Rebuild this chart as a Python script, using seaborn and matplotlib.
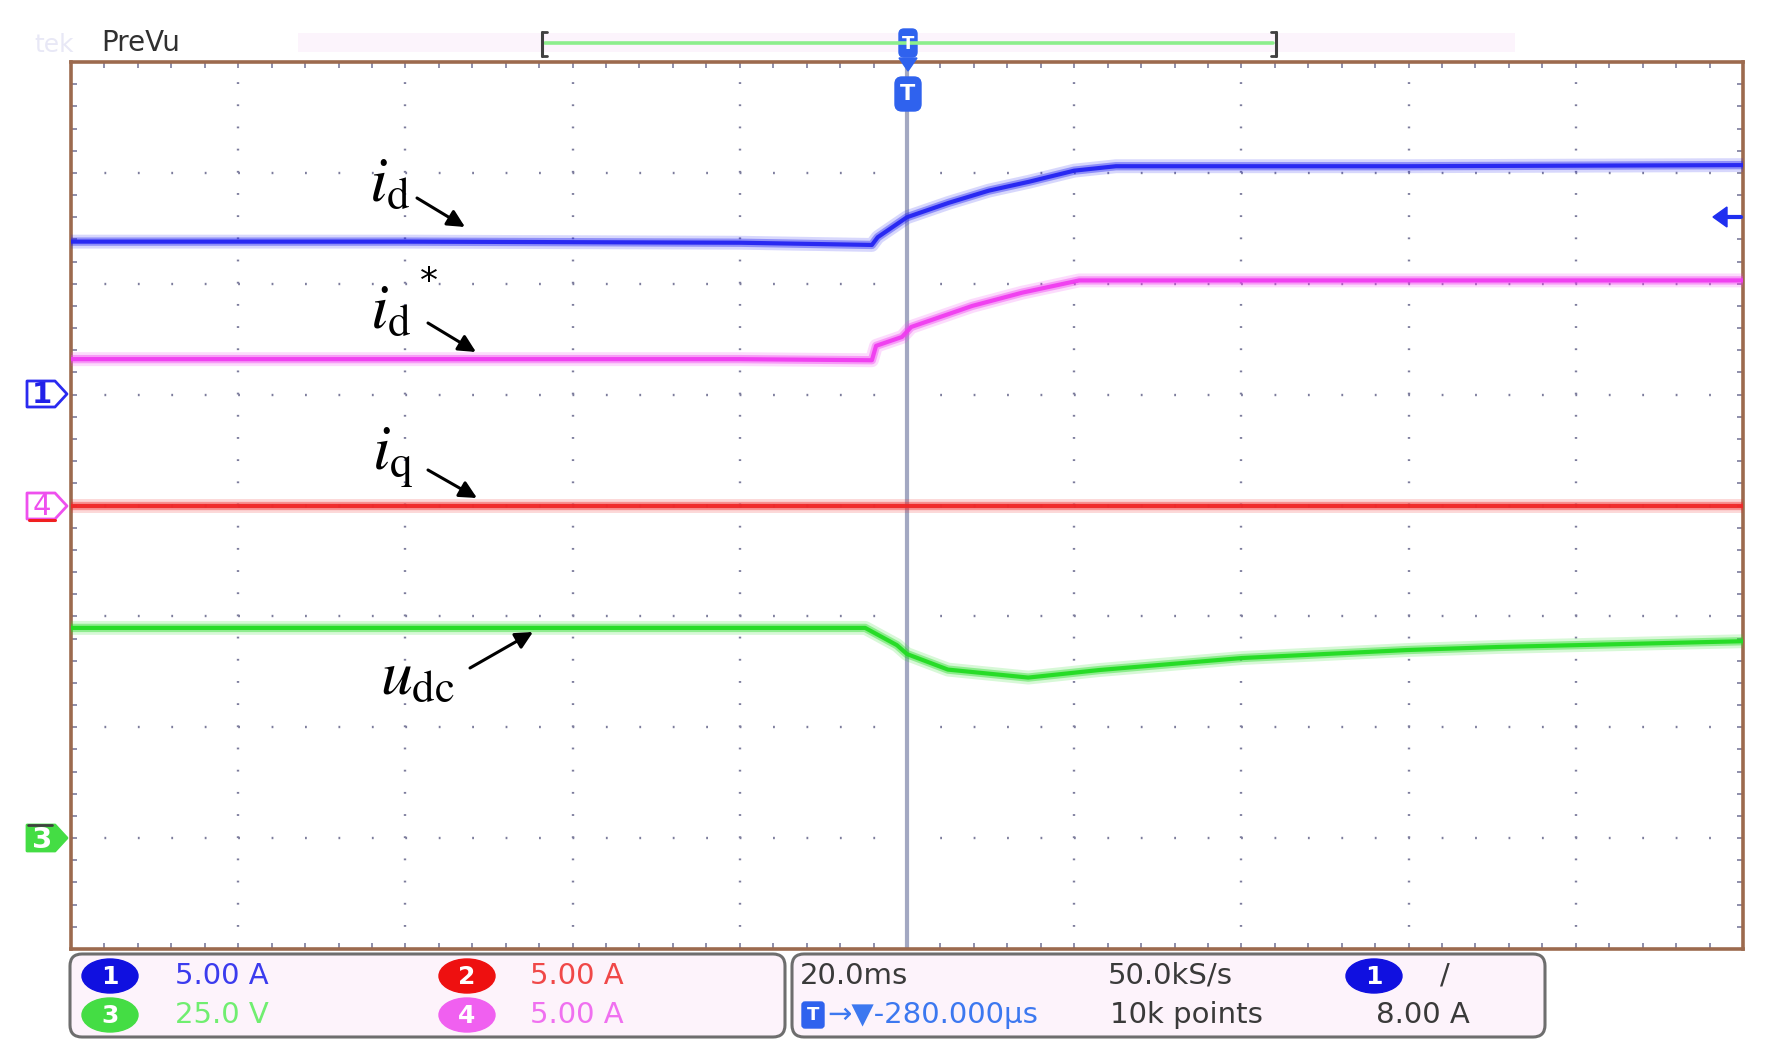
import numpy as np
import pandas as pd
import matplotlib
matplotlib.use("Agg")
import matplotlib.pyplot as plt
import seaborn as sns
from matplotlib.patches import Polygon, FancyBboxPatch, Ellipse, Rectangle

# ---------------- data (read from the scope screen) ----------------
# time axis: 20 ms/div, trigger at centre
t_id = [-100, -60, -20, -4.2, -3.5, 0.0, 5.0, 9.8, 14.6, 20.0, 25.0, 30, 60, 100]
id_A = [6.9, 6.9, 6.85, 6.75, 7.1, 8.0, 8.65, 9.2, 9.6, 10.1, 10.3, 10.3, 10.3, 10.35]

t_idref = [-100, -60, -20, -4.2, -3.7, -0.6, 0.5, 7.8, 13.8, 20.6, 40, 100]
idref_A = [6.6, 6.6, 6.6, 6.55, 7.2, 7.6, 8.05, 9.0, 9.6, 10.15, 10.15, 10.15]

t_iq = [-100, 0, 100]
iq_A = [0.0, 0.0, 0.0]

t_udc = [-100, -60, -20, -5.0, -1.2, 0.0, 4.9, 14.5, 23.0, 40.0, 59.7, 70.8, 100]
udc_V = [47.4, 47.4, 47.4, 47.4, 43.5, 41.5, 38.0, 36.2, 37.9, 40.6, 42.4, 43.1, 44.4]

# channel settings: units/div and ground marker position (div)
ch_scale = {"id": 5.0, "iq": 5.0, "udc": 25.0, "idref": 5.0}
ch_offset = {"id": 1.0, "iq": 0.0, "udc": -3.0, "idref": 0.0}
ch_color = {"id": "#2424f2", "idref": "#f03cf0", "iq": "#f02828", "udc": "#22dc22"}

traces = {
    "id": (t_id, id_A),
    "idref": (t_idref, idref_A),
    "iq": (t_iq, iq_A),
    "udc": (t_udc, udc_V),
}

# ---------------- figure ----------------
W, H = 1766, 1061
sns.set_theme(style="white")
plt.rcParams["font.family"] = ["DejaVu Sans"]
plt.rcParams["mathtext.fontset"] = "stix"
plt.rcParams["lines.scale_dashes"] = False

fig = plt.figure(figsize=(W / 100, H / 100), dpi=100)
fig.patch.set_facecolor("white")

L, R, T, B = 71, 1743, 62, 949
ax = fig.add_axes([L / W, 1 - B / H, (R - L) / W, (B - T) / H])
ax.set_facecolor("white")
ax.set_xlim(-100, 100)
ax.set_ylim(-4, 4)

# graticule dots
grid_c = "#7c7c9c"
for xv in range(-80, 81, 20):
    if xv != 0:
        ax.axvline(xv, color=grid_c, lw=1.7, ls=(0, (1.3, 15.97 - 1.3)), zorder=1)
for yv in range(-3, 4):
    ax.axhline(yv, color=grid_c, lw=1.7, ls=(0, (1.3, 24.07 - 1.3)), zorder=1)
ax.axhline(0, color=grid_c, lw=2.6, ls=(0, (1.3, 24.07 - 1.3)), zorder=1)

# trigger line
ax.axvline(0, color="#a3a8c2", lw=3.0, zorder=2)

# traces (noise band drawn as a soft halo)
for name, (tt, vv) in traces.items():
    df = pd.DataFrame({"t": tt, "v": vv})
    df["div"] = df["v"] / ch_scale[name] + ch_offset[name]
    c = ch_color[name]
    sns.lineplot(data=df, x="t", y="div", color=c, lw=10, alpha=0.18,
                 estimator=None, sort=False, ax=ax, zorder=3)
    sns.lineplot(data=df, x="t", y="div", color=c, lw=6, alpha=0.4,
                 estimator=None, sort=False, ax=ax, zorder=3)
    sns.lineplot(data=df, x="t", y="div", color=c, lw=3.0, alpha=0.95,
                 estimator=None, sort=False, ax=ax, zorder=4)

ax.set_xlabel("")
ax.set_ylabel("")
ax.set_xticks(np.arange(-100, 101, 20))
ax.set_xticks(np.arange(-100, 101, 4), minor=True)
ax.set_yticks(np.arange(-4, 5, 1))
ax.set_yticks(np.arange(-4, 4.01, 0.2), minor=True)
ax.tick_params(which="both", direction="in", length=4, width=1.2, color="#7c7c9c",
               top=True, right=True, bottom=True, left=True,
               labelbottom=False, labelleft=False)
for s in ax.spines.values():
    s.set_color("#9c6a4e")
    s.set_linewidth(2.6)

# ---------------- decorations in pixel coordinates ----------------
deco = fig.add_axes([0, 0, 1, 1])
deco.set_xlim(0, W)
deco.set_ylim(H, 0)
deco.axis("off")
deco.patch.set_alpha(0)

# top bar
deco.add_patch(Rectangle((298, 33), 1217, 19, color="#fbeefa", alpha=0.6, lw=0))
deco.text(34, 45, "tek", fontsize=18, color="#e8e8f6", va="center", ha="left")
deco.text(101, 43, "PreVu", fontsize=20, color="#303030", va="center", ha="left")
deco.plot([545, 1273], [43, 43], color="#8cee8c", lw=2.6)
deco.plot([542, 542], [32, 56], color="#404040", lw=2.2)
deco.plot([542, 547], [32, 32], color="#404040", lw=2.0)
deco.plot([542, 547], [56, 56], color="#404040", lw=2.0)
deco.plot([1276, 1276], [32, 56], color="#404040", lw=2.2)
deco.plot([1271, 1276], [32, 32], color="#404040", lw=2.0)
deco.plot([1271, 1276], [56, 56], color="#404040", lw=2.0)

tblue = "#2f62ee"
deco.add_patch(FancyBboxPatch((899, 29), 18, 28, boxstyle="round,pad=0,rounding_size=5",
                              fc=tblue, ec=tblue, lw=1))
deco.text(908, 44, "T", fontsize=13, color="white", ha="center", va="center", weight="bold")
deco.add_patch(Polygon([[899, 58], [917, 58], [908, 71]], closed=True, fc=tblue, ec=tblue))
deco.add_patch(FancyBboxPatch((895, 77), 26, 34, boxstyle="round,pad=0,rounding_size=7",
                              fc=tblue, ec=tblue, lw=1))
deco.text(908, 94, "T", fontsize=16, color="white", ha="center", va="center", weight="bold")

# trigger level arrow (right)
deco.add_patch(Polygon([[1713, 217], [1727, 207], [1727, 227]], closed=True, fc="#1f2ff0", ec="#1f2ff0"))
deco.plot([1722, 1741], [217, 217], color="#1f2ff0", lw=3)

# left channel markers
def pent(cy, ec, fc):
    pts = [[27, cy - 13], [55, cy - 13], [67, cy], [55, cy + 13], [27, cy + 13]]
    deco.add_patch(Polygon(pts, closed=True, fc=fc, ec=ec, lw=2.0, joinstyle="round"))

pent(394, "#2a2af0", "white")
deco.text(42, 395, "1", fontsize=21, color="#2020e8", ha="center", va="center", weight="bold")
pent(506, "#ee50ee", "white")
deco.plot([29, 55], [520, 520], color="#f02020", lw=2.2)
deco.text(42, 507, "4", fontsize=21, color="#ee50ee", ha="center", va="center")
pent(838, "#44dd44", "#44dd44")
deco.plot([28, 52], [825, 825], color="#404040", lw=2)
deco.text(42, 840, "3", fontsize=21, color="white", ha="center", va="center", weight="bold")

# signal labels and arrows
lab_kw = dict(fontsize=46, color="black", ha="left", va="baseline")
deco.text(369, 201, r"$i_{\mathrm{d}}$", **lab_kw)
deco.text(370, 328, r"$i_{\mathrm{d}}$", **lab_kw)
deco.text(429, 282, "*", fontsize=26, color="black", ha="center", va="center")
deco.text(372, 470, r"$i_{\mathrm{q}}$", **lab_kw)
deco.text(380, 694, r"$u_{\mathrm{dc}}$", **lab_kw)

arr = dict(arrowstyle="-|>", color="black", lw=2.2, mutation_scale=26, shrinkA=0, shrinkB=0)
deco.annotate("", xy=(465, 227), xytext=(417, 198), arrowprops=arr)
deco.annotate("", xy=(476, 352), xytext=(428, 323), arrowprops=arr)
deco.annotate("", xy=(477, 498), xytext=(428, 470), arrowprops=arr)
deco.annotate("", xy=(533, 632), xytext=(470, 668), arrowprops=arr)

# bottom info boxes
for x0, x1 in [(70, 785), (792, 1545)]:
    deco.add_patch(FancyBboxPatch((x0, 954), x1 - x0, 83,
                                  boxstyle="round,pad=0,rounding_size=12",
                                  fc="#fdf3fb", ec="#6e6e6e", lw=2.2))

def badge(cx, cy, txt, fc):
    deco.add_patch(Ellipse((cx, cy), 56, 34, fc=fc, ec=fc))
    deco.text(cx, cy + 1, txt, fontsize=18, color="white", ha="center", va="center", weight="bold")

info_fs = 21
badge(110, 976, "1", "#1010e0")
deco.text(175, 976, "5.00 A", fontsize=info_fs, color="#3b3bee", va="center")
badge(110, 1015, "3", "#44dd44")
deco.text(175, 1015, "25.0 V", fontsize=info_fs, color="#70ee70", va="center")
badge(467, 976, "2", "#ee1010")
deco.text(530, 976, "5.00 A", fontsize=info_fs, color="#f04848", va="center")
badge(467, 1015, "4", "#f060f0")
deco.text(530, 1015, "5.00 A", fontsize=info_fs, color="#f070f0", va="center")

dark = "#3a3a3a"
deco.text(800, 976, "20.0ms", fontsize=info_fs, color=dark, va="center")
deco.text(1108, 976, "50.0kS/s", fontsize=info_fs, color=dark, va="center")
badge(1374, 976, "1", "#1010e0")
deco.text(1445, 976, "/", fontsize=info_fs, color=dark, va="center", ha="center")
deco.add_patch(FancyBboxPatch((802, 1002), 22, 26, boxstyle="round,pad=0,rounding_size=3",
                              fc=tblue, ec=tblue))
deco.text(813, 1015, "T", fontsize=13, color="white", ha="center", va="center", weight="bold")
deco.text(827, 1015, "\u2192\u25bc-280.000\u00b5s", fontsize=info_fs, color="#3c78f0", va="center")
deco.text(1110, 1015, "10k points", fontsize=info_fs, color=dark, va="center")
deco.text(1376, 1015, "8.00 A", fontsize=info_fs, color=dark, va="center")

fig.savefig("out.png", dpi=100, facecolor="white")
